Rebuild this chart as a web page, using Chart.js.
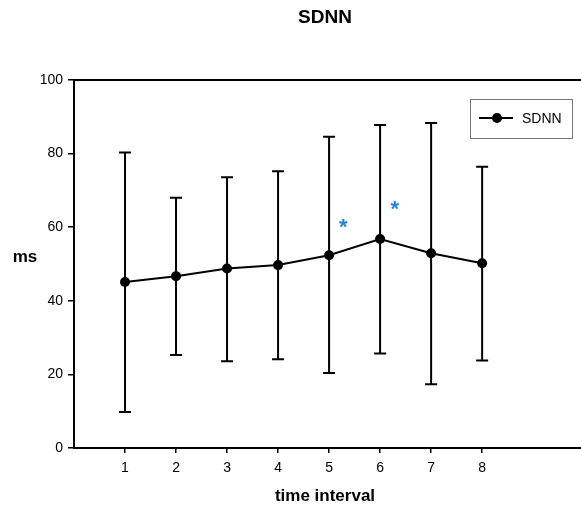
<!DOCTYPE html>
<html>
<head>
<meta charset="utf-8">
<script src="https://cdn.jsdelivr.net/npm/chart.js@4/dist/chart.umd.min.js"></script>
<style>
  body { margin: 0; background: #fff; }
</style>
</head>
<body>
<canvas id="sdnnChart" width="581" height="510"></canvas>
<script>
// values
const intervals = [1, 2, 3, 4, 5, 6, 7, 8];
const sdnnMean = [45.1, 46.7, 48.8, 49.7, 52.4, 56.8, 52.9, 50.2];
const sdnnUpper = [80.3, 68.0, 73.6, 75.2, 84.6, 87.8, 88.3, 76.4];
const sdnnLower = [9.8, 25.3, 23.6, 24.1, 20.4, 25.7, 17.3, 23.8];
const yTicks = [0, 20, 40, 60, 80, 100];
// significance markers (x, y in data units)
const sigX = [5.28, 6.29];
const sigY = [61.5, 66.5];

const FONT = "Arial, 'Liberation Sans', sans-serif";
const STAR_SIZE = 22;

const errorBars = {
    id: 'errorBars',
    beforeDatasetsDraw(chart) {
        const { ctx, scales: { x, y } } = chart;
        ctx.save();
        ctx.strokeStyle = '#000';
        ctx.lineWidth = 2;
        intervals.forEach((v, i) => {
            const px = x.getPixelForValue(v);
            const top = y.getPixelForValue(sdnnUpper[i]);
            const bot = y.getPixelForValue(sdnnLower[i]);
            ctx.beginPath();
            ctx.moveTo(px, top);
            ctx.lineTo(px, bot);
            ctx.moveTo(px - 6, top);
            ctx.lineTo(px + 6, top);
            ctx.moveTo(px - 6, bot);
            ctx.lineTo(px + 6, bot);
            ctx.stroke();
        });
        ctx.restore();
    }
};

const extras = {
    id: 'extras',
    afterDraw(chart) {
        const { ctx, chartArea, scales: { x, y } } = chart;
        ctx.save();
        // top and bottom frame lines run to the edge of the picture
        ctx.strokeStyle = '#000';
        ctx.lineWidth = 2;
        ctx.beginPath();
        ctx.moveTo(chartArea.right - 1, chartArea.top);
        ctx.lineTo(chart.width, chartArea.top);
        ctx.moveTo(chartArea.right - 1, chartArea.bottom);
        ctx.lineTo(chart.width, chartArea.bottom);
        ctx.stroke();
        // asterisks
        ctx.fillStyle = '#2088d8';
        ctx.font = 'bold ' + STAR_SIZE + 'px ' + FONT;
        ctx.textAlign = 'center';
        ctx.textBaseline = 'alphabetic';
        sigX.forEach((v, i) => {
            ctx.fillText('*', x.getPixelForValue(v), y.getPixelForValue(sigY[i]) + 0.57 * STAR_SIZE);
        });
        // y label, horizontal
        ctx.fillStyle = '#000';
        ctx.font = 'bold 17px ' + FONT;
        ctx.textBaseline = 'middle';
        ctx.fillText('ms', chartArea.left - 49, (chartArea.top + chartArea.bottom) / 2 - 7);
        // legend box
        const bx = 470, by = chartArea.top + 19;
        ctx.strokeStyle = '#777';
        ctx.lineWidth = 1;
        ctx.strokeRect(bx + 0.5, by + 0.5, 102, 39);
        ctx.strokeStyle = '#000';
        ctx.lineWidth = 2;
        ctx.beginPath();
        ctx.moveTo(bx + 9, by + 19);
        ctx.lineTo(bx + 43, by + 19);
        ctx.stroke();
        ctx.beginPath();
        ctx.arc(bx + 27, by + 19, 5, 0, Math.PI * 2);
        ctx.fillStyle = '#000';
        ctx.fill();
        ctx.font = '14px ' + FONT;
        ctx.textAlign = 'left';
        ctx.fillText('SDNN', bx + 52, by + 20);
        ctx.restore();
    }
};

const ctx = document.getElementById('sdnnChart').getContext('2d');
new Chart(ctx, {
    type: 'line',
    data: {
        datasets: [{
            label: 'SDNN',
            data: intervals.map((v, i) => ({ x: v, y: sdnnMean[i] })),
            borderColor: '#000',
            backgroundColor: '#000',
            borderWidth: 2,
            pointRadius: 5,
            pointBackgroundColor: '#000',
            pointBorderWidth: 0,
            tension: 0
        }]
    },
    options: {
        responsive: false,
        animation: false,
        layout: { padding: 0 },
        scales: {
            x: {
                type: 'linear',
                position: 'bottom',
                min: 0,
                max: 9.84,
                afterBuildTicks: (scale) => { scale.ticks = intervals.map(v => ({ value: v })); },
                afterFit: (scale) => { scale.height = 62; },
                grid: { display: true, drawOnChartArea: false, drawTicks: true, tickLength: 5, color: '#000', lineWidth: 1.5 },
                border: { display: true, color: '#000', width: 2 },
                ticks: { color: '#000', font: { size: 14, family: FONT }, padding: 7, maxRotation: 0 },
                title: { display: true, text: 'time interval', color: '#000', font: { size: 17, weight: 'bold', family: FONT }, padding: { top: 4, bottom: 3 } }
            },
            xTop: {
                type: 'linear',
                position: 'top',
                min: 0,
                max: 9.84,
                afterFit: (scale) => { scale.height = 0; },
                grid: { display: false, drawTicks: false },
                border: { display: true, color: '#000', width: 2 },
                ticks: { display: false }
            },
            y: {
                min: 0,
                max: 100,
                afterBuildTicks: (scale) => { scale.ticks = yTicks.map(v => ({ value: v })); },
                afterFit: (scale) => { scale.width = 74; },
                grid: { display: true, drawOnChartArea: false, drawTicks: true, tickLength: 6, color: '#000', lineWidth: 1.5 },
                border: { display: true, color: '#000', width: 2 },
                ticks: { color: '#000', font: { size: 14, family: FONT }, padding: 5 }
            }
        },
        plugins: {
            legend: { display: false },
            tooltip: { enabled: false },
            title: {
                display: true,
                fullSize: false,
                text: 'SDNN',
                color: '#000',
                font: { size: 19, weight: 'bold', family: FONT },
                padding: { top: 6, bottom: 51.2 }
            }
        }
    },
    plugins: [errorBars, extras]
});
</script>
</body>
</html>
